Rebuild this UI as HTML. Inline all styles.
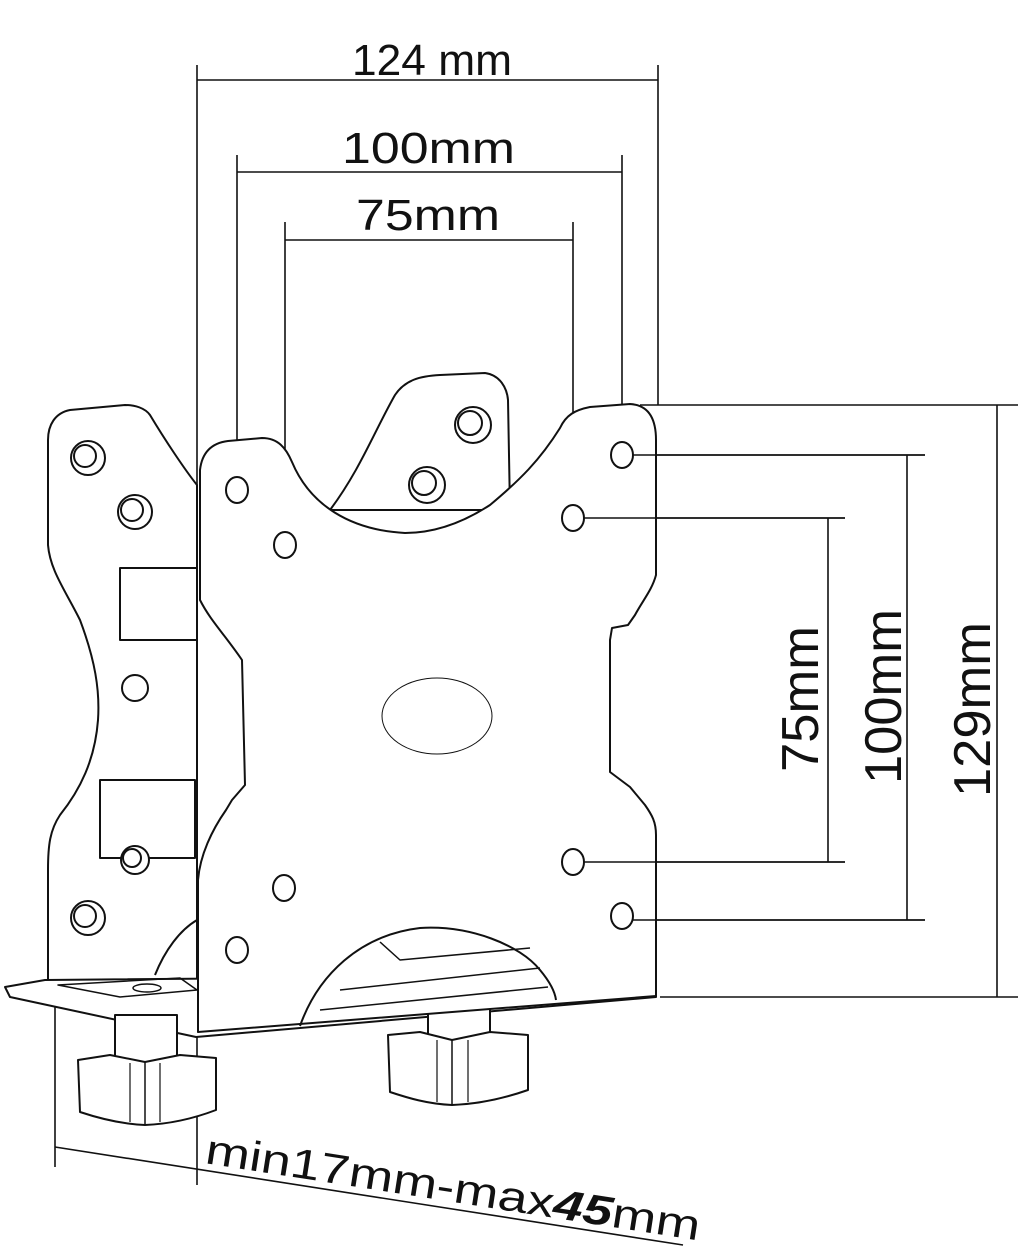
<!DOCTYPE html>
<html><head><meta charset="utf-8"><style>
html,body{margin:0;padding:0;background:#fff;width:1028px;height:1260px;overflow:hidden}
svg{display:block}
text{font-family:"Liberation Sans","DejaVu Sans",sans-serif;fill:#111}
</style></head><body>
<svg width="1028" height="1260" viewBox="0 0 1028 1260" xmlns="http://www.w3.org/2000/svg">
<g stroke="#111" stroke-width="1.6" fill="none">
<!-- top dimension lines -->
<line x1="197" y1="65" x2="197" y2="1185"/>
<line x1="658" y1="65" x2="658" y2="405"/>
<line x1="197" y1="80" x2="658" y2="80"/>
<line x1="237" y1="155" x2="237" y2="480"/>
<line x1="622" y1="155" x2="622" y2="445"/>
<line x1="237" y1="172" x2="622" y2="172"/>
<line x1="285" y1="222" x2="285" y2="535"/>
<line x1="573" y1="222" x2="573" y2="508"/>
<line x1="285" y1="240" x2="573" y2="240"/>
<!-- right dimension lines -->
<line x1="640" y1="405" x2="1018" y2="405"/>
<line x1="660" y1="997" x2="1018" y2="997"/>
<line x1="997" y1="405" x2="997" y2="997"/>
<line x1="632" y1="455" x2="925" y2="455"/>
<line x1="632" y1="920" x2="925" y2="920"/>
<line x1="907" y1="455" x2="907" y2="920"/>
<line x1="583" y1="518" x2="845" y2="518"/>
<line x1="583" y1="862" x2="845" y2="862"/>
<line x1="828" y1="518" x2="828" y2="862"/>
<!-- bottom dimension -->
<line x1="55" y1="1005" x2="55" y2="1167"/>
<line x1="55" y1="1147" x2="683" y2="1245"/>
</g>
<g stroke="#111" stroke-width="2" fill="#fff" stroke-linejoin="round">
<!-- back (left) plate -->
<path d="M197,485 C185,470 165,440 150,415 C145,408 135,405 125,405 L70,410 C55,413 48,425 48,440 L48,545 C50,570 65,590 80,620 C95,660 100,690 98,720 C95,760 80,790 60,815 C50,830 48,845 48,870 L48,985 L197,985 Z"/>
<rect x="120" y="568" width="77" height="72" fill="#fff"/>
<rect x="100" y="780" width="95" height="78"/>
<!-- top centre plate -->
<path d="M330,510 C360,470 375,430 395,395 C405,380 420,376 440,375 L485,373 C500,375 507,388 508,400 L510,510 Z"/>
<!-- base plate -->
<path d="M5,987 L45,980 L640,975 L656,985 L656,997 L196,1037 L10,997 Z"/>
<!-- knobs -->
<rect x="115" y="1015" width="62" height="48"/>
<path d="M78,1060 L110,1055 L145,1062 L180,1055 L216,1058 L216,1110 C195,1118 170,1124 145,1125 C120,1124 98,1118 80,1112 Z"/>
<line x1="145" y1="1062" x2="145" y2="1125" stroke-width="1.5"/>
<line x1="130" y1="1063" x2="130" y2="1122" stroke-width="1.2"/>
<line x1="160" y1="1063" x2="160" y2="1122" stroke-width="1.2"/>
<rect x="428" y="1005" width="62" height="35"/>
<path d="M388,1035 L420,1032 L452,1040 L490,1032 L528,1035 L528,1090 C505,1098 480,1104 452,1105 C428,1104 408,1098 390,1092 Z"/>
<line x1="452" y1="1040" x2="452" y2="1105" stroke-width="1.5"/>
<line x1="437" y1="1040" x2="437" y2="1102" stroke-width="1.2"/>
<line x1="468" y1="1040" x2="468" y2="1102" stroke-width="1.2"/>
<!-- front plate -->
<path d="M200,600 L200,470 C202,452 212,443 228,441 L262,438 C278,438 286,448 292,462 C310,505 350,530 405,533 C440,533 470,518 490,505 C520,480 540,460 560,428 C566,415 575,410 590,407 L630,404 C648,405 656,418 656,440 L656,575 C652,590 643,600 635,615 L628,625 L612,628 L610,640 L610,772 L630,787 L645,805 C652,815 656,822 656,835 L656,996 L198,1032 L198,880 C200,855 212,830 226,810 L232,800 L245,785 L242,660 C225,635 210,620 200,600 Z"/>
<!-- lower cutout in front plate -->
<path d="M300,1026 C318,975 360,935 420,928 C470,925 520,945 540,970 C550,982 555,992 556,1000" fill="none"/>
<path d="M340,990 L540,968 M320,1010 L548,987 M380,942 L400,960 L530,948" fill="none" stroke-width="1.5"/>
<path d="M155,975 C165,950 180,930 197,920" fill="none"/>
<path d="M58,985 L180,978 L197,990 L120,997 Z" fill="none" stroke-width="1.5"/>
<ellipse cx="147" cy="988" rx="14" ry="4" stroke-width="1.5"/>
</g>
<g stroke="#111" stroke-width="2" fill="#fff">
<!-- back plate holes with rings -->
<circle cx="88" cy="458" r="17"/><circle cx="85" cy="456" r="11"/>
<circle cx="135" cy="512" r="17"/><circle cx="132" cy="510" r="11"/>
<circle cx="135" cy="688" r="13"/>
<circle cx="88" cy="918" r="17"/><circle cx="85" cy="916" r="11"/>
<circle cx="135" cy="860" r="14"/><circle cx="132" cy="858" r="9"/>
<circle cx="473" cy="425" r="18"/><circle cx="470" cy="423" r="12"/>
<circle cx="427" cy="485" r="18"/><circle cx="424" cy="483" r="12"/>
<!-- front plate holes -->
<ellipse cx="237" cy="490" rx="11" ry="13"/>
<ellipse cx="285" cy="545" rx="11" ry="13"/>
<ellipse cx="573" cy="518" rx="11" ry="13"/>
<ellipse cx="622" cy="455" rx="11" ry="13"/>
<ellipse cx="573" cy="862" rx="11" ry="13"/>
<ellipse cx="622" cy="916" rx="11" ry="13"/>
<ellipse cx="284" cy="888" rx="11" ry="13"/>
<ellipse cx="237" cy="950" rx="11" ry="13"/>
<ellipse cx="437" cy="716" rx="55" ry="38" stroke-width="1"/>
</g>
<!-- hole connector lines redrawn on top -->
<g stroke="#111" stroke-width="1.6">
<line x1="633" y1="455" x2="925" y2="455"/>
<line x1="584" y1="518" x2="845" y2="518"/>
<line x1="584" y1="862" x2="845" y2="862"/>
<line x1="633" y1="920" x2="925" y2="920"/>
</g>
<!-- labels -->
<text x="352" y="75" font-size="44" textLength="160" lengthAdjust="spacingAndGlyphs">124 mm</text>
<text x="342" y="163" font-size="44" textLength="173" lengthAdjust="spacingAndGlyphs">100mm</text>
<text x="356" y="230" font-size="44" textLength="144" lengthAdjust="spacingAndGlyphs">75mm</text>
<text transform="translate(818,772) rotate(-90)" font-size="52" textLength="146" lengthAdjust="spacingAndGlyphs">75mm</text>
<text transform="translate(901,784) rotate(-90)" font-size="52" textLength="175" lengthAdjust="spacingAndGlyphs">100mm</text>
<text transform="translate(990,797) rotate(-90)" font-size="52" textLength="175" lengthAdjust="spacingAndGlyphs">129mm</text>
<text transform="translate(204,1163) rotate(8.9)" font-size="42" textLength="500" lengthAdjust="spacingAndGlyphs">min17mm-max<tspan font-weight="bold" font-style="italic">45</tspan>mm</text>
</svg>
</body></html>
